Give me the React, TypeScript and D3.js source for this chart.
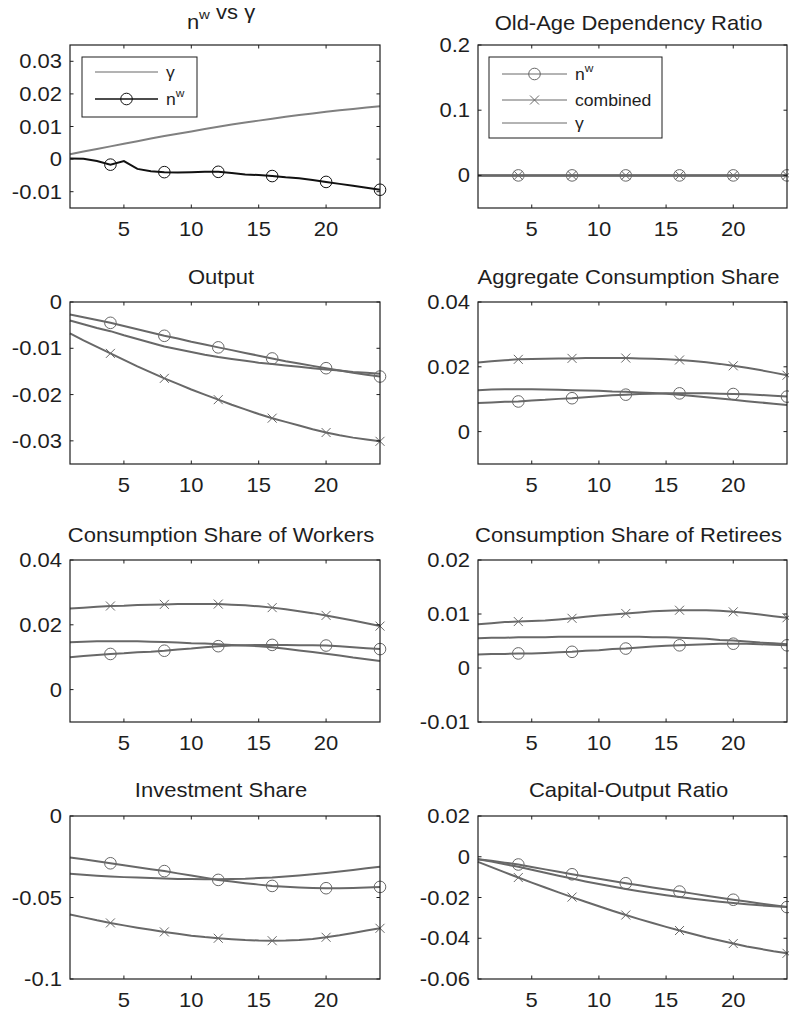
import * as d3 from "d3";
import React from "react";

// periods on the x axis
const periods = d3.range(1, 25);
const xTicks = [5, 10, 15, 20];
const markerEvery = 4;

// panel 1: n^w vs gamma
const p1Gamma = [0.0015, 0.0023, 0.0031, 0.0039, 0.0047, 0.0055, 0.0063, 0.0071, 0.0078, 0.0085, 0.0092, 0.0099, 0.0106, 0.0112, 0.0118, 0.0124, 0.013, 0.0135, 0.014, 0.0145, 0.015, 0.0154, 0.0158, 0.0162];
const p1Nw = [0.0002, 0.0001, -0.0006, -0.0017, -0.0006, -0.003, -0.0037, -0.004, -0.0041, -0.004, -0.0039, -0.0039, -0.0043, -0.0047, -0.0049, -0.0052, -0.0056, -0.0059, -0.0064, -0.007, -0.0076, -0.0082, -0.0088, -0.0094];

// panel 2: old-age dependency ratio
const oadNw = periods.map(() => 0);
const oadCombined = periods.map(() => 0);
const oadGamma = periods.map(() => 0);

// output
const outNw = [-0.0027, -0.0033, -0.0039, -0.0045, -0.0052, -0.0059, -0.0066, -0.0073, -0.0079, -0.0086, -0.0092, -0.0098, -0.0104, -0.011, -0.0116, -0.0122, -0.0128, -0.0133, -0.0138, -0.0143, -0.0148, -0.0153, -0.0157, -0.0161];
const outCombined = [-0.0068, -0.0083, -0.0097, -0.0111, -0.0125, -0.0139, -0.0152, -0.0165, -0.0177, -0.0189, -0.02, -0.0211, -0.0222, -0.0232, -0.0242, -0.0251, -0.0259, -0.0267, -0.0275, -0.0282, -0.0288, -0.0293, -0.0297, -0.0301];
const outGamma = [-0.004, -0.0048, -0.0056, -0.0063, -0.0072, -0.008, -0.0088, -0.0096, -0.0102, -0.0108, -0.0114, -0.0119, -0.0123, -0.0127, -0.0131, -0.0134, -0.0137, -0.014, -0.0143, -0.0146, -0.0148, -0.0151, -0.0153, -0.0155];

// aggregate consumption share
const aggNw = [0.0088, 0.009, 0.0092, 0.0093, 0.0096, 0.0098, 0.0101, 0.0103, 0.0106, 0.0109, 0.0112, 0.0114, 0.0116, 0.0117, 0.0118, 0.0118, 0.0118, 0.0118, 0.0117, 0.0116, 0.0115, 0.0113, 0.0111, 0.0108];
const aggCombined = [0.0213, 0.0217, 0.022, 0.0223, 0.0224, 0.0225, 0.0226, 0.0226, 0.0227, 0.0227, 0.0227, 0.0227, 0.0226, 0.0225, 0.0223, 0.0221, 0.0218, 0.0214, 0.0209, 0.0203, 0.0197, 0.019, 0.0182, 0.0174];
const aggGamma = [0.0128, 0.013, 0.0131, 0.0131, 0.0131, 0.013, 0.0129, 0.0128, 0.0127, 0.0126, 0.0124, 0.0123, 0.0121, 0.0119, 0.0117, 0.0114, 0.011, 0.0106, 0.0102, 0.0098, 0.0094, 0.009, 0.0086, 0.0082];

// consumption share of workers
const wrkNw = [0.01, 0.0104, 0.0107, 0.011, 0.0112, 0.0115, 0.0117, 0.012, 0.0124, 0.0127, 0.0131, 0.0134, 0.0136, 0.0137, 0.0138, 0.0138, 0.0138, 0.0137, 0.0137, 0.0136, 0.0134, 0.0131, 0.0128, 0.0125];
const wrkCombined = [0.025, 0.0253, 0.0256, 0.0258, 0.0259, 0.0261, 0.0262, 0.0263, 0.0264, 0.0264, 0.0264, 0.0264, 0.0262, 0.026, 0.0257, 0.0253, 0.0248, 0.0242, 0.0236, 0.0229, 0.0221, 0.0213, 0.0205, 0.0196];
const wrkGamma = [0.0146, 0.0148, 0.0149, 0.0149, 0.0149, 0.0149, 0.0148, 0.0147, 0.0145, 0.0143, 0.0142, 0.014, 0.0138, 0.0136, 0.0134, 0.0131, 0.0126, 0.0121, 0.0116, 0.0111, 0.0105, 0.0099, 0.0094, 0.0088];

// consumption share of retirees
const retNw = [0.0025, 0.0026, 0.0026, 0.0027, 0.0027, 0.0028, 0.0029, 0.003, 0.0032, 0.0033, 0.0035, 0.0036, 0.0038, 0.004, 0.0041, 0.0042, 0.0043, 0.0044, 0.0045, 0.0045, 0.0045, 0.0044, 0.0043, 0.0042];
const retCombined = [0.0081, 0.0083, 0.0085, 0.0086, 0.0087, 0.0088, 0.009, 0.0092, 0.0095, 0.0097, 0.0099, 0.0101, 0.0103, 0.0105, 0.0106, 0.0107, 0.0107, 0.0107, 0.0106, 0.0104, 0.0102, 0.0099, 0.0096, 0.0093];
const retGamma = [0.0055, 0.0056, 0.0056, 0.0057, 0.0057, 0.0057, 0.0058, 0.0058, 0.0058, 0.0058, 0.0058, 0.0058, 0.0058, 0.0057, 0.0057, 0.0056, 0.0055, 0.0054, 0.0052, 0.0051, 0.0049, 0.0047, 0.0046, 0.0044];

// investment share
const invNw = [-0.0254, -0.0266, -0.0278, -0.029, -0.0302, -0.0314, -0.0326, -0.0338, -0.0352, -0.0365, -0.0379, -0.0392, -0.0402, -0.0412, -0.0421, -0.0429, -0.0434, -0.0438, -0.0441, -0.0443, -0.0443, -0.0441, -0.0438, -0.0435];
const invCombined = [-0.0604, -0.0622, -0.064, -0.0656, -0.0671, -0.0685, -0.0698, -0.0711, -0.0723, -0.0734, -0.0743, -0.075, -0.0756, -0.0761, -0.0764, -0.0765, -0.0764, -0.0761, -0.0754, -0.0744, -0.0732, -0.0718, -0.0703, -0.0689];
const invGamma = [-0.0355, -0.0361, -0.0366, -0.0371, -0.0375, -0.0378, -0.0381, -0.0384, -0.0386, -0.0387, -0.0388, -0.0388, -0.0387, -0.0385, -0.0381, -0.0377, -0.0371, -0.0365, -0.0358, -0.035, -0.0341, -0.0331, -0.0321, -0.0311];

// capital-output ratio
const kyNw = [-0.0012, -0.002, -0.0029, -0.0038, -0.005, -0.0062, -0.0074, -0.0086, -0.0097, -0.0108, -0.0119, -0.013, -0.014, -0.0151, -0.0161, -0.0171, -0.0181, -0.0191, -0.0201, -0.0211, -0.022, -0.0229, -0.0238, -0.0247];
const kyCombined = [-0.0025, -0.0051, -0.0077, -0.0102, -0.0127, -0.0151, -0.0175, -0.0198, -0.0221, -0.0243, -0.0265, -0.0286, -0.0306, -0.0325, -0.0344, -0.0362, -0.0379, -0.0396, -0.0411, -0.0426, -0.044, -0.0452, -0.0464, -0.0474];
const kyGamma = [-0.0012, -0.0024, -0.0037, -0.0049, -0.0064, -0.0079, -0.0093, -0.0107, -0.0121, -0.0134, -0.0146, -0.0158, -0.0169, -0.0179, -0.0189, -0.0198, -0.0206, -0.0214, -0.0221, -0.0227, -0.0233, -0.0238, -0.0243, -0.0247];

const INK = "#1e1e1e";
const GRAY = "#686868";
const FONT = "'Liberation Sans', Arial, Helvetica, sans-serif";
const SX = 1.1; // the original text is a bit wider than Arial

type Marker = "circle" | "cross" | "none";
type Series = { values: number[]; marker: Marker; color: string; width: number };

const T = ({ x, y, size = 20, anchor = "middle", children }: any) => (
  <text
    transform={`translate(${x},${y}) scale(${SX},1)`}
    fontSize={size}
    textAnchor={anchor}
    fill={INK}
    fontFamily={FONT}
  >
    {children}
  </text>
);

const Mark = ({ type, x, y, color }: { type: Marker; x: number; y: number; color: string }) => {
  if (type === "circle")
    return <circle cx={x} cy={y} r={5.8} fill="none" stroke={color} strokeWidth={1} />;
  if (type === "cross") {
    const a = 4.5;
    return (
      <path
        d={`M${x - a},${y - a}L${x + a},${y + a}M${x - a},${y + a}L${x + a},${y - a}`}
        stroke={color}
        strokeWidth={1}
      />
    );
  }
  return null;
};

const Panel = ({
  box,
  yDomain,
  yTicks,
  title,
  titleY,
  series,
  children,
}: {
  box: [number, number, number, number];
  yDomain: [number, number];
  yTicks: number[];
  title: React.ReactNode;
  titleY: number;
  series: Series[];
  children?: React.ReactNode;
}) => {
  const [x0, x1, y0, y1] = box;
  const x = d3.scaleLinear().domain([1, 24]).range([x0, x1]);
  const y = d3.scaleLinear().domain(yDomain).range([y1, y0]);
  const line = d3
    .line<number>()
    .x((_, i) => x(periods[i]))
    .y((d) => y(d));
  const tl = 3.5;
  const fmt = (v: number) => String(+v.toFixed(4));

  return (
    <g>
      <rect x={x0} y={y0} width={x1 - x0} height={y1 - y0} fill="#fff" />
      {series.map((s, k) => (
        <g key={k}>
          <path d={line(s.values) || ""} fill="none" stroke={s.color} strokeWidth={s.width} />
          {s.values.map((v, i) =>
            periods[i] % markerEvery === 0 ? (
              <Mark key={i} type={s.marker} x={x(periods[i])} y={y(v)} color={s.color} />
            ) : null
          )}
        </g>
      ))}
      {/* box and inward ticks */}
      <rect x={x0} y={y0} width={x1 - x0} height={y1 - y0} fill="none" stroke={INK} strokeWidth={1.2} />
      {xTicks.map((t) => (
        <g key={"x" + t}>
          <line x1={x(t)} x2={x(t)} y1={y1} y2={y1 - tl} stroke={INK} />
          <line x1={x(t)} x2={x(t)} y1={y0} y2={y0 + tl} stroke={INK} />
          <T x={x(t)} y={y1 + 28}>{t}</T>
        </g>
      ))}
      {yTicks.map((t) => (
        <g key={"y" + t}>
          <line x1={x0} x2={x0 + tl} y1={y(t)} y2={y(t)} stroke={INK} />
          <line x1={x1} x2={x1 - tl} y1={y(t)} y2={y(t)} stroke={INK} />
          <T x={x0 - 8} y={y(t) + 7} anchor="end">{fmt(t)}</T>
        </g>
      ))}
      <T x={(x0 + x1) / 2 - 4} y={titleY}>{title}</T>
      {children}
    </g>
  );
};

const NW = ({ size = 20 }: { size?: number }) => (
  <>
    n<tspan dy={-size * 0.5} fontSize={size * 0.68}>w</tspan>
    <tspan dy={size * 0.5}></tspan>
  </>
);

const LegendRow = ({ x0, x1, y, color, width, marker, label }: any) => (
  <g>
    <line x1={x0} x2={x1} y1={y} y2={y} stroke={color} strokeWidth={width} />
    <Mark type={marker} x={(x0 + x1) / 2} y={y} color={color} />
    <T x={x1 + 8} y={y + 6} size={16} anchor="start">{label}</T>
  </g>
);

const L = [70, 380];
const R = [478, 787];
const rows = [
  [45, 208],
  [302, 464],
  [560, 722],
  [816, 979],
];
const titleYs = [29, 284, 542, 797];

const three = (nw: number[], comb: number[], gam: number[]): Series[] => [
  { values: nw, marker: "circle", color: GRAY, width: 2 },
  { values: comb, marker: "cross", color: GRAY, width: 2 },
  { values: gam, marker: "none", color: GRAY, width: 2 },
];

export default function App() {
  return (
    <svg
      width={789}
      height={1012}
      style={{ position: "absolute", left: 0, top: 0, background: "#fff" }}
    >
      <Panel
        box={[L[0], L[1], rows[0][0], rows[0][1]]}
        yDomain={[-0.015, 0.035]}
        yTicks={[-0.01, 0, 0.01, 0.02, 0.03]}
        title={
          <>
            <NW /> vs γ
          </>
        }
        titleY={titleYs[0]}
        series={[
          { values: p1Gamma, marker: "none", color: "#808080", width: 2 },
          { values: p1Nw, marker: "circle", color: "#111", width: 2 },
        ]}
      >
        <rect x={82} y={57} width={115} height={60} fill="#fff" stroke={INK} strokeWidth={1} />
        <LegendRow x0={95} x1={158} y={72} color="#9a9a9a" width={1.5} marker="none" label="γ" />
        <LegendRow x0={95} x1={158} y={99} color="#111" width={1.5} marker="circle" label={<NW size={16} />} />
      </Panel>

      <Panel
        box={[R[0], R[1], rows[0][0], rows[0][1]]}
        yDomain={[-0.05, 0.2]}
        yTicks={[0, 0.1, 0.2]}
        title="Old-Age Dependency Ratio"
        titleY={titleYs[0] + 1}
        series={three(oadNw, oadCombined, oadGamma)}
      >
        <rect x={489} y={57} width={173} height={81} fill="#fff" stroke={INK} strokeWidth={1} />
        <LegendRow x0={502} x1={567} y={74} color={GRAY} width={1} marker="circle" label={<NW size={16} />} />
        <LegendRow x0={502} x1={567} y={100} color={GRAY} width={1} marker="cross" label="combined" />
        <LegendRow x0={502} x1={567} y={123} color={GRAY} width={1} marker="none" label="γ" />
      </Panel>

      <Panel
        box={[L[0], L[1], rows[1][0], rows[1][1]]}
        yDomain={[-0.035, 0]}
        yTicks={[-0.03, -0.02, -0.01, 0]}
        title="Output"
        titleY={titleYs[1]}
        series={three(outNw, outCombined, outGamma)}
      />
      <Panel
        box={[R[0], R[1], rows[1][0], rows[1][1]]}
        yDomain={[-0.01, 0.04]}
        yTicks={[0, 0.02, 0.04]}
        title="Aggregate Consumption Share"
        titleY={titleYs[1]}
        series={three(aggNw, aggCombined, aggGamma)}
      />
      <Panel
        box={[L[0], L[1], rows[2][0], rows[2][1]]}
        yDomain={[-0.01, 0.04]}
        yTicks={[0, 0.02, 0.04]}
        title="Consumption Share of Workers"
        titleY={titleYs[2]}
        series={three(wrkNw, wrkCombined, wrkGamma)}
      />
      <Panel
        box={[R[0], R[1], rows[2][0], rows[2][1]]}
        yDomain={[-0.01, 0.02]}
        yTicks={[-0.01, 0, 0.01, 0.02]}
        title="Consumption Share of Retirees"
        titleY={titleYs[2]}
        series={three(retNw, retCombined, retGamma)}
      />
      <Panel
        box={[L[0], L[1], rows[3][0], rows[3][1]]}
        yDomain={[-0.1, 0]}
        yTicks={[-0.1, -0.05, 0]}
        title="Investment Share"
        titleY={titleYs[3]}
        series={three(invNw, invCombined, invGamma)}
      />
      <Panel
        box={[R[0], R[1], rows[3][0], rows[3][1]]}
        yDomain={[-0.06, 0.02]}
        yTicks={[-0.06, -0.04, -0.02, 0, 0.02]}
        title="Capital-Output Ratio"
        titleY={titleYs[3]}
        series={three(kyNw, kyCombined, kyGamma)}
      />
    </svg>
  );
}
